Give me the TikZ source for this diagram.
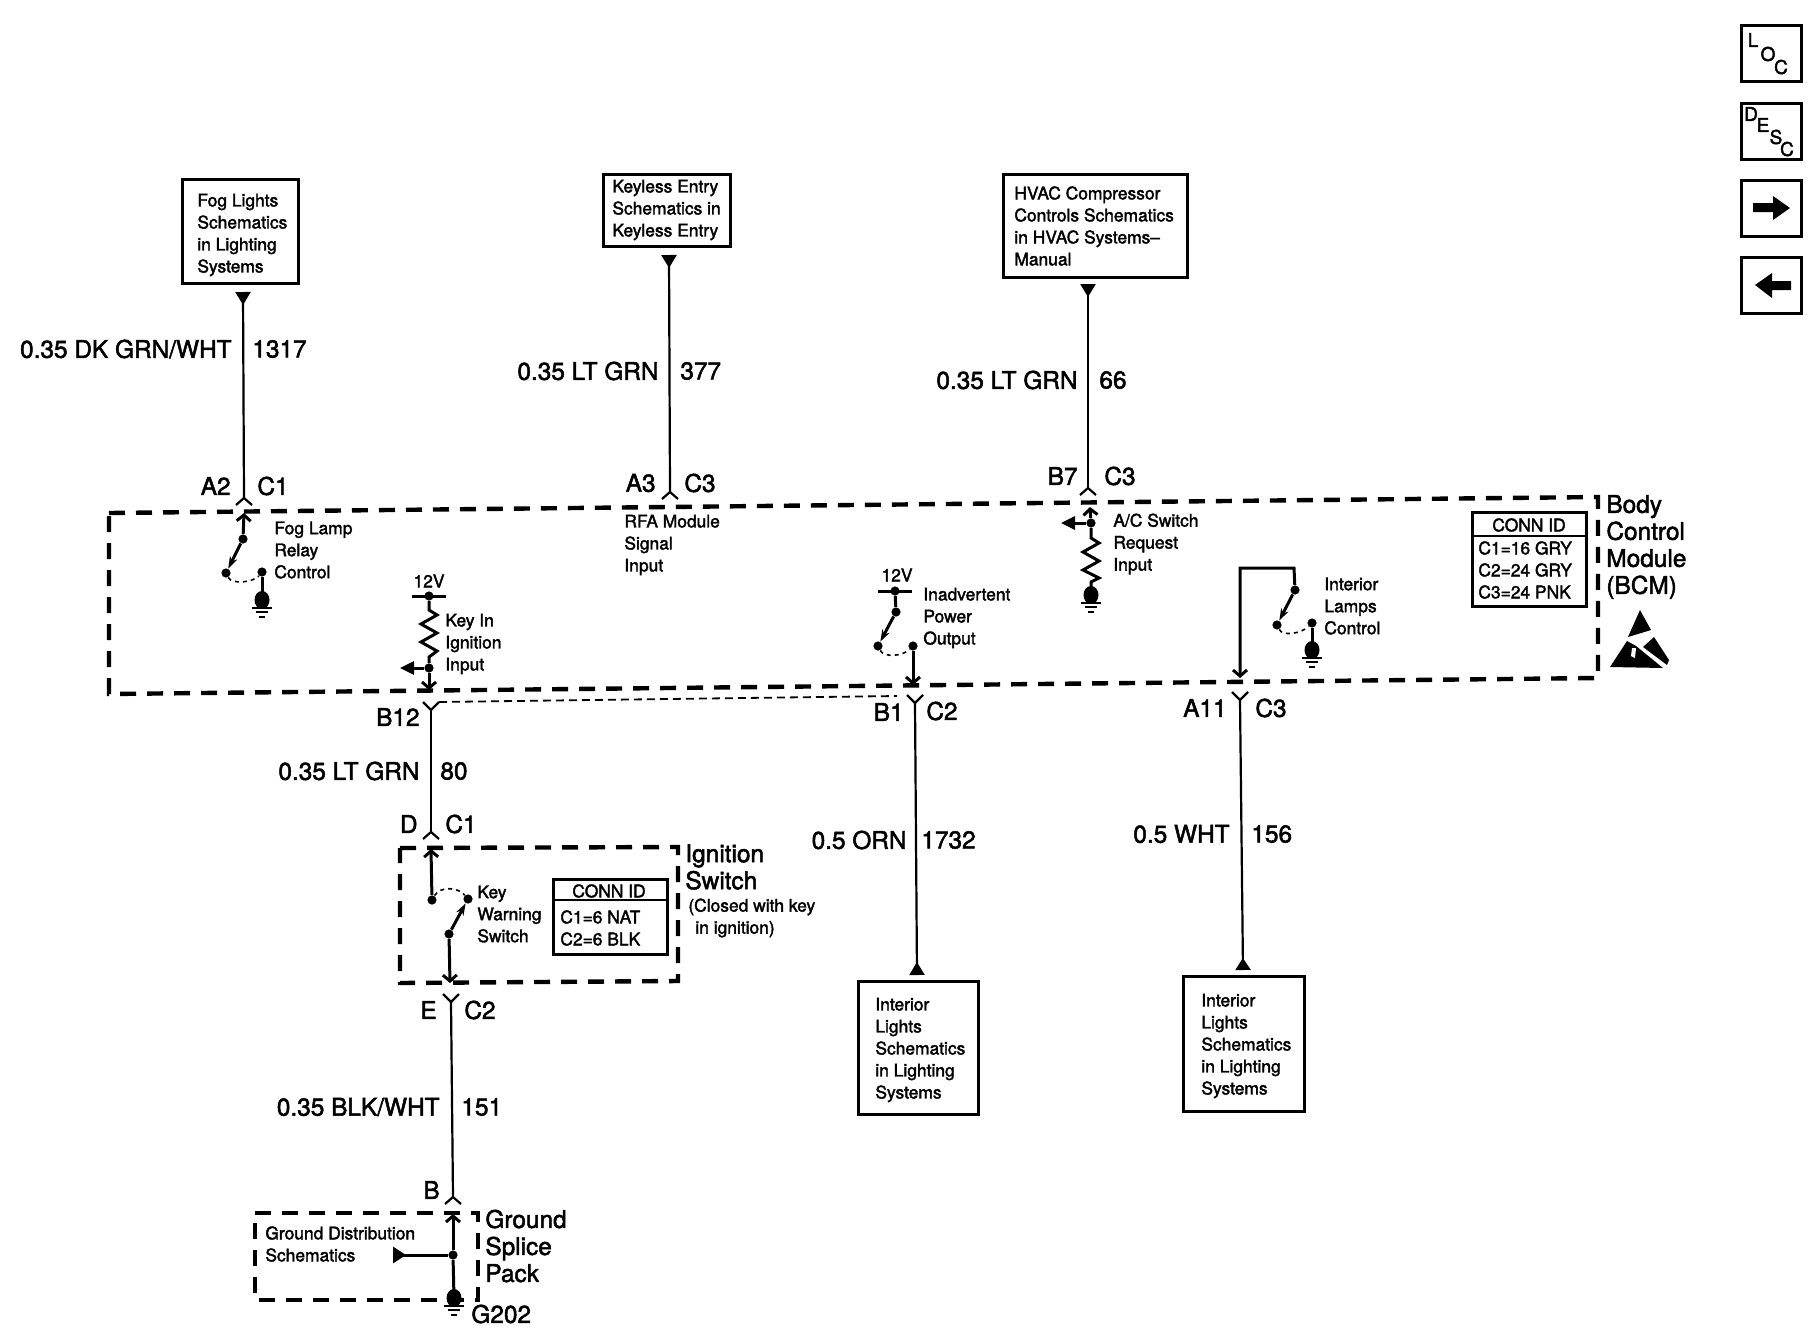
\documentclass[tikz,border=0pt]{standalone}
\usepackage{fontspec}
\setmainfont{TeX Gyre Heros}[RawFeature={embolden=2}]
\usetikzlibrary{arrows.meta}

\tikzset{
  wire/.style={line width=1.1pt},
  thickwire/.style={line width=1.5pt},
  jdot/.style={inner sep=0pt, minimum size=4.6pt, circle, fill},
  smalltxt/.style={inner sep=0pt, anchor=west, align=left, font=\fontsize{8.7}{11}\selectfont},
  bigtxt/.style={inner sep=0pt, font=\fontsize{12.2}{13.5}\selectfont},
  refbox/.style={draw, line width=1.5pt, inner sep=0pt},
  dashbox/.style={line width=2.2pt, dash pattern=on 8pt off 5.5pt},
  arcdash/.style={line width=.8pt, dash pattern=on 2pt off 2pt},
  opentip/.style={-{Straight Barb[length=3pt,width=7pt]}},
  armtip/.style={-{Stealth[length=6pt,width=4pt]}},
  chevup/.pic={\draw[wire] (-8,7) -- (0,0) -- (8,7);},
  chevdn/.pic={\draw[wire] (-8,-8) -- (0,0) -- (8,-8);},
  gnd/.pic={
    \fill (0,0) ellipse (7.5 and 9);
    \draw[wire] (-10,8) -- (10,8);
    \draw[wire] (-6,12) -- (6,12);
    \draw[wire] (-3,17) -- (3,17);
  },
}

\begin{document}
\begin{tikzpicture}[x=0.5pt, y=-0.5pt]
  \useasboundingbox (0,0) rectangle (1816,1344);

  % buttons top right
  \node [refbox, minimum width=30pt, minimum height=28pt](locbtn) at (1771.5,53.5) {};
  \node [refbox, minimum width=30pt, minimum height=28pt](descbtn) at (1771.5,131.5) {};
  \node [refbox, minimum width=30pt, minimum height=28pt](nextbtn) at (1771.5,208) {};
  \node [refbox, minimum width=30pt, minimum height=28pt](prevbtn) at (1771.5,285.5) {};
  \foreach \name/\txt/\px/\py in {l1/L/1753/40, l2/O/1768/54, l3/C/1781/67, d1/D/1751/114, d2/E/1763/125, d3/S/1776/137, d4/C/1787/149}
    \node [inner sep=0pt, font=\fontsize{9.5}{10}\selectfont](\name) at (\px,\py) {\txt};
  \fill (1753,203) -- (1773,203) -- (1773,196) -- (1790,208) -- (1773,220) -- (1773,212) -- (1753,212) -- cycle;
  \fill (1791,281) -- (1772,281) -- (1772,273) -- (1755,285) -- (1772,298) -- (1772,290) -- (1791,290) -- cycle;

  % boxes at the top
  \node [refbox, minimum width=58pt, minimum height=52pt](fogbox) at (240.5,231) {};
  \node [smalltxt](fogtxt) at (197,235) {Fog Lights\\Schematics\\in Lighting\\Systems};
  \node [refbox, minimum width=63.5pt, minimum height=36pt](rfabox) at (667,210.5) {};
  \node [smalltxt](rfatxt) at (612,210) {Keyless Entry\\Schematics in\\Keyless Entry};
  \node [refbox, minimum width=92pt, minimum height=51.5pt](hvacbox) at (1095,226) {};
  \node [smalltxt](hvactxt) at (1014,226) {HVAC Compressor\\Controls Schematics\\in HVAC Systems--\\Manual};

  % wires from the top boxes
  \coordinate (fogtop) at (243,292);
  \coordinate (a2) at (244,498);
  \coordinate (rfatop) at (669,255);
  \coordinate (a3) at (670,492);
  \coordinate (hvactop) at (1088,284);
  \coordinate (b7) at (1088,488);
  \foreach \from/\to in {fogtop/a2, rfatop/a3, hvactop/b7}
    \draw[wire, {Triangle[reversed,length=6.5pt,width=7.5pt]}-] (\from) -- (\to);
  \pic at (a2) {chevup};
  \pic at (a3) {chevup};
  \pic at (b7) {chevup};

  \node [bigtxt, anchor=east](w1317) at (232,349) {0.35 DK GRN/WHT};
  \node [bigtxt, anchor=west](n1317) at (252,349) {1317};
  \node [bigtxt, anchor=east](w377) at (659,371) {0.35 LT GRN};
  \node [bigtxt, anchor=west](n377) at (680,371) {377};
  \node [bigtxt, anchor=east](w66) at (1078,380) {0.35 LT GRN};
  \node [bigtxt, anchor=west](n66) at (1099,380) {66};
  \node [bigtxt, anchor=east](la2) at (231,486) {A2};
  \node [bigtxt, anchor=west](lc1) at (257,486) {C1};
  \node [bigtxt, anchor=east](la3) at (656,483) {A3};
  \node [bigtxt, anchor=west](lc3) at (684,483) {C3};
  \node [bigtxt, anchor=east](lb7) at (1078,476) {B7};
  \node [bigtxt, anchor=west](lc3b) at (1104,476) {C3};

  % the module outline
  \coordinate (bcmtl) at (109,513);
  \coordinate (bcmtr) at (1598,497);
  \coordinate (bcmbr) at (1598,678);
  \coordinate (bcmbl) at (109,694);
  \draw[dashbox] (bcmtl) -- (bcmtr) -- (bcmbr) -- (bcmbl) -- cycle;
  \node [bigtxt, anchor=west, align=left](bcmtxt) at (1606,547) {Body\\Control\\Module\\(BCM)};

  % esd mark
  \fill (1640,610) -- (1651,630) -- (1628,637) -- cycle;
  \fill (1610,667) -- (1627,641) -- (1636,646) -- (1663,668) -- cycle;
  \fill (1654,637) -- (1669,660) -- (1667,665) -- (1643,647) -- cycle;
  \fill[white] (1632,648) -- (1636,648) -- (1635,658) -- (1631,656) -- cycle;

  % conn id of the module
  \node [refbox, minimum width=57pt, minimum height=47pt](bcmconn) at (1529,559) {};
  \coordinate (bcmdivl) at (1472,536);
  \coordinate (bcmdivr) at (1586,536);
  \draw[wire] (bcmdivl) -- (bcmdivr);
  \node [inner sep=0pt, font=\fontsize{8.7}{11}\selectfont](bcmconnid) at (1529,525) {CONN ID};
  \node [smalltxt](bcmconntxt) at (1478,570) {C1=16 GRY\\C2=24 GRY\\C3=24 PNK};

  % fog lamp relay
  \node [jdot](fogc) at (243,539) {};
  \node [jdot](fogl) at (226,573) {};
  \node [jdot](fogr) at (262,572) {};
  \coordinate (foguse) at (244,513);
  \coordinate (foggnd) at (262,600);
  \draw[thickwire, opentip] (fogc) -- (foguse);
  \draw[thickwire, armtip] (fogc) -- (fogl);
  \draw[arcdash] (fogl) .. controls +(6,12) and +(-8,10) .. (fogr);
  \draw[thickwire] (fogr) -- (foggnd);
  \pic at (foggnd) {gnd};
  \node [smalltxt](fogctl) at (274,550) {Fog Lamp\\Relay\\Control};

  \node [smalltxt](rfactl) at (624,545) {RFA Module\\Signal\\Input};

  % key in ignition input
  \node [inner sep=0pt, font=\fontsize{8.7}{11}\selectfont](keyv) at (429,581) {12V};
  \coordinate (keybl) at (412,596);
  \coordinate (keybr) at (446,596);
  \draw[thickwire] (keybl) -- (keybr);
  \node [jdot](keytop) at (429,596) {};
  \coordinate (keyr) at (429,610);
  \coordinate (keyq) at (429,657);
  \node [jdot](keyin) at (429,668) {};
  \coordinate (keyarrow) at (400,668);
  \coordinate (keyout) at (429,690);
  \draw[thickwire] (keytop) -- (keyr) -- ++(8,5) -- ++(-16,9) -- ++(16,9) -- ++(-16,9) -- ++(16,9) -- (keyq) -- (keyin);
  \draw[thickwire, -{Triangle[length=7pt,width=6.5pt]}] (keyin) -- (keyarrow);
  \draw[thickwire, opentip] (keyin) -- (keyout);
  \node [smalltxt](keytxt) at (445,644) {Key In\\Ignition\\Input};

  % inadvertent power
  \node [inner sep=0pt, font=\fontsize{8.7}{11}\selectfont](inav) at (897,575) {12V};
  \coordinate (inabl) at (878,591);
  \coordinate (inabr) at (912,591);
  \draw[thickwire] (inabl) -- (inabr);
  \node [jdot](inatop) at (895,591) {};
  \node [jdot](inac) at (896,612) {};
  \node [jdot](inal) at (878,646) {};
  \node [jdot](inar) at (913,646) {};
  \coordinate (inaout) at (913,685);
  \draw[thickwire] (inatop) -- (inac);
  \draw[thickwire, armtip] (inac) -- (inal);
  \draw[arcdash] (inal) .. controls +(6,12) and +(-10,10) .. (inar);
  \draw[thickwire, opentip] (inar) -- (inaout);
  \node [smalltxt](inatxt) at (923,618) {Inadvertent\\Power\\Output};

  % a/c switch request
  \coordinate (acuse) at (1090,507);
  \node [jdot](acin) at (1091,523) {};
  \coordinate (acarrow) at (1061,523);
  \coordinate (acr) at (1091,538);
  \coordinate (acq) at (1091,582);
  \coordinate (acgnd) at (1091,595);
  \draw[thickwire, opentip] (acin) -- (acuse);
  \draw[thickwire, -{Triangle[length=7pt,width=6.5pt]}] (acin) -- (acarrow);
  \draw[thickwire] (acin) -- (acr) -- ++(8,5) -- ++(-16,9) -- ++(16,9) -- ++(-16,9) -- ++(16,8) -- (acq) -- (acgnd);
  \pic at (acgnd) {gnd};
  \node [smalltxt](actxt) at (1113,544) {A/C Switch\\Request\\Input};

  % interior lamps
  \coordinate (intout) at (1240,678);
  \coordinate (inttl) at (1240,568);
  \coordinate (inttr) at (1294,568);
  \node [jdot](intc) at (1295,590) {};
  \node [jdot](intl) at (1277,625) {};
  \node [jdot](intr) at (1312,623) {};
  \coordinate (intgnd) at (1312,650);
  \draw[thickwire, opentip] (intc) -- (inttr) -- (inttl) -- (intout);
  \draw[thickwire, armtip] (intc) -- (intl);
  \draw[arcdash] (intl) .. controls +(6,12) and +(-10,10) .. (intr);
  \draw[thickwire] (intr) -- (intgnd);
  \pic at (intgnd) {gnd};
  \node [smalltxt](inttxt) at (1324,606) {Interior\\Lamps\\Control};

  % b12 to d
  \coordinate (b12) at (431,710);
  \coordinate (d) at (431,832);
  \draw[wire] (b12) -- (d);
  \pic at (b12) {chevdn};
  \pic at (d) {chevup};
  \coordinate (b12dash) at (439,702);
  \coordinate (b1dash) at (897,696);
  \draw[line width=.9pt, dash pattern=on 4pt off 2.5pt] (b12dash) -- (b1dash);
  \node [bigtxt, anchor=east](lb12) at (420,717) {B12};
  \node [bigtxt, anchor=east](w80) at (420,771) {0.35 LT GRN};
  \node [bigtxt, anchor=west](n80) at (440,771) {80};
  \node [bigtxt, anchor=east](ld) at (418,824) {D};
  \node [bigtxt, anchor=west](lc1b) at (445,824) {C1};

  % ignition switch
  \coordinate (igtl) at (400,848);
  \coordinate (igtr) at (678,847);
  \coordinate (igbr) at (678,981);
  \coordinate (igbl) at (400,983);
  \draw[dashbox] (igtl) -- (igtr) -- (igbr) -- (igbl) -- cycle;
  \coordinate (iguse) at (431,849);
  \node [jdot](igl) at (432,900) {};
  \node [jdot](igr) at (468,899) {};
  \node [jdot](igc) at (449,934) {};
  \coordinate (igout) at (450,983);
  \draw[thickwire, opentip] (igl) -- (iguse);
  \draw[arcdash] (igl) .. controls +(8,-14) and +(-10,-12) .. (igr);
  \draw[thickwire, armtip] (igc) -- (igr);
  \draw[thickwire, opentip] (igc) -- (igout);
  \node [smalltxt](igtxt) at (477,914) {Key\\Warning\\Switch};
  \node [refbox, minimum width=57pt, minimum height=37.5pt](igconn) at (610,916.5) {};
  \coordinate (igdivl) at (553,900);
  \coordinate (igdivr) at (667,900);
  \draw[wire] (igdivl) -- (igdivr);
  \node [inner sep=0pt, font=\fontsize{8.7}{11}\selectfont](igconnid) at (609,891) {CONN ID};
  \node [smalltxt](igconntxt) at (560,928) {C1=6 NAT\\C2=6 BLK};
  \node [bigtxt, anchor=west, align=left](igname) at (685,867) {Ignition\\Switch};
  \node [smalltxt](igclosed) at (688,918) {(Closed with key\\\hspace*{3.5pt}in ignition)};

  % e to b
  \coordinate (e) at (451,1002);
  \coordinate (b) at (453,1197);
  \draw[wire] (e) -- (b);
  \pic at (e) {chevdn};
  \pic at (b) {chevup};
  \node [bigtxt, anchor=east](le) at (437,1010) {E};
  \node [bigtxt, anchor=west](lc2) at (464,1010) {C2};
  \node [bigtxt, anchor=east](w151) at (440,1107) {0.35 BLK/WHT};
  \node [bigtxt, anchor=west](n151) at (461,1107) {151};
  \node [bigtxt, anchor=east](lb) at (440,1190) {B};

  % ground splice pack
  \coordinate (gstl) at (255,1213);
  \coordinate (gstr) at (478,1213);
  \coordinate (gsbr) at (478,1300);
  \coordinate (gsbl) at (255,1300);
  \draw[dashbox] (gstl) -- (gstr) -- (gsbr) -- (gsbl) -- cycle;
  \coordinate (gsuse) at (453,1214);
  \node [jdot](gsj) at (453,1255) {};
  \coordinate (gsarrow) at (393,1255);
  \coordinate (gsgnd) at (454,1298);
  \draw[thickwire, opentip] (gsj) -- (gsuse);
  \draw[thickwire] (gsj) -- (gsgnd);
  \draw[thickwire, -{Triangle[reversed,length=6.5pt,width=8pt]}] (gsj) -- (gsarrow);
  \pic at (gsgnd) {gnd};
  \node [smalltxt](gstxt) at (265,1244) {Ground Distribution\\Schematics};
  \node [bigtxt, anchor=west, align=left](gsname) at (485,1246) {Ground\\Splice\\Pack};
  \node [bigtxt, anchor=west](g202) at (471,1314) {G202};

  % b1 and a11 wires down to the lower boxes
  \coordinate (b1) at (915,703);
  \coordinate (ilbtm) at (917,975);
  \draw[wire, -{Triangle[reversed,length=6.5pt,width=7.5pt]}] (b1) -- (ilbtm);
  \pic at (b1) {chevdn};
  \coordinate (a11) at (1240,700);
  \coordinate (ilbtmb) at (1243,970);
  \draw[wire, -{Triangle[reversed,length=6pt,width=7.5pt]}] (a11) -- (ilbtmb);
  \pic at (a11) {chevdn};
  \node [bigtxt, anchor=east](lb1) at (904,712) {B1};
  \node [bigtxt, anchor=west](lc2b) at (926,711) {C2};
  \node [bigtxt, anchor=east](la11) at (1227,708) {A11};
  \node [bigtxt, anchor=west](lc3c) at (1255,708) {C3};
  \node [bigtxt, anchor=east](w1732) at (907,840) {0.5 ORN};
  \node [bigtxt, anchor=west](n1732) at (921,840) {1732};
  \node [bigtxt, anchor=east](w156) at (1230,834) {0.5 WHT};
  \node [bigtxt, anchor=west](n156) at (1251,834) {156};

  \node [refbox, minimum width=60pt, minimum height=66.5pt](ilbox) at (918.5,1047.5) {};
  \node [smalltxt](iltxt) at (875,1050) {Interior\\Lights\\Schematics\\in Lighting\\Systems};
  \node [refbox, minimum width=60.5pt, minimum height=67.5pt](ilboxb) at (1244,1044) {};
  \node [smalltxt](iltxtb) at (1201,1046) {Interior\\Lights\\Schematics\\in Lighting\\Systems};
\end{tikzpicture}
\end{document}
